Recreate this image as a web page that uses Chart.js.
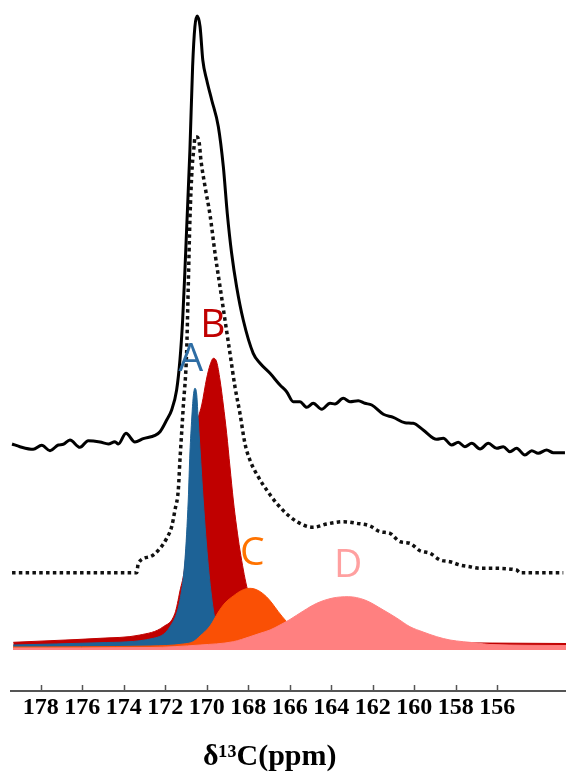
<!DOCTYPE html>
<html>
<head>
<meta charset="utf-8">
<script src="https://cdn.jsdelivr.net/npm/chart.js@4.4.1/dist/chart.umd.min.js"></script>
<style>
  html, body { margin: 0; padding: 0; background: #fff; }
</style>
</head>
<body>
<canvas id="spectra" width="566" height="775"></canvas>
<script>
// x axis ticks (ppm)
const tickValues = [178, 176, 174, 172, 170, 168, 166, 164, 162, 160, 158, 156]

// measured spectrum (solid)
const solidPpm = [179.38, 179.00, 178.36, 177.95, 177.55, 177.15, 176.91, 176.59, 176.11, 175.71, 175.14, 174.74, 174.42, 174.26, 173.89, 173.46, 173.06, 172.49, 172.25, 171.93, 171.69, 171.45, 171.29, 171.16, 171.05, 170.97, 170.81, 170.68, 170.57, 170.46, 170.32, 170.19, 170.00, 169.76, 169.44, 169.20, 169.01, 168.80, 168.56, 168.24, 167.76, 167.43, 166.95, 166.47, 166.15, 165.83, 165.51, 165.18, 164.87, 164.46, 164.06, 163.82, 163.42, 163.10, 162.70, 162.38, 162.05, 161.49, 161.01, 160.45, 160.05, 159.57, 158.92, 158.60, 158.20, 157.88, 157.56, 157.23, 156.83, 156.43, 156.03, 155.71, 155.39, 155.07, 154.67, 154.34, 154.03, 153.62, 153.30, 152.74]
const solidInt = [247, 244.3, 241.7, 245.7, 240.3, 246, 246.7, 251, 243.7, 250.3, 249, 247, 249.3, 247, 257.7, 249, 252.3, 255.7, 259.3, 271, 281, 301, 331, 371, 421, 461, 541, 624.3, 664.3, 675, 664.3, 631, 611, 591, 564.3, 524.3, 477.7, 437.7, 404.3, 371, 337.7, 327.7, 317.7, 306, 299.3, 289.3, 289.3, 283.7, 287.7, 281.7, 287.7, 287, 292.7, 289.3, 290.3, 287.7, 286, 276.7, 273.7, 268.3, 267.7, 261, 251.7, 252.7, 246, 248.7, 244.3, 247.7, 242, 247.7, 242.7, 244.3, 239.3, 242.7, 236, 240.3, 237.7, 241, 238.3, 238.3]

// fitted sum (dotted)
const dottedPpm = [179.38, 173.37, 173.30, 172.73, 172.25, 171.93, 171.69, 171.53, 171.37, 171.29, 171.21, 171.13, 170.97, 170.89, 170.81, 170.70, 170.61, 170.57, 170.47, 170.36, 170.28, 170.08, 169.84, 169.60, 169.36, 169.12, 168.88, 168.64, 168.40, 168.16, 167.92, 167.52, 167.11, 166.63, 165.99, 165.35, 164.87, 164.22, 163.42, 162.78, 162.13, 161.65, 161.17, 160.69, 160.21, 159.73, 159.24, 158.76, 158.28, 157.80, 157.32, 156.83, 156.35, 155.07, 154.91, 152.82]
const dottedInt = [118.3, 118.3, 127.7, 134.3, 142.7, 152.7, 164.3, 181, 201, 231, 257.7, 284.3, 337.7, 404.3, 471, 524.3, 544.3, 553.7, 554, 547.7, 531, 504.3, 476, 437.7, 404.3, 371, 337.7, 304.3, 277.7, 247.7, 231, 214.3, 201, 187.7, 174.3, 166, 163.7, 167, 169.3, 167.7, 165, 159.3, 157.7, 149.3, 147.7, 140.3, 137.7, 131, 129.3, 126, 124.3, 122.7, 122.7, 121, 118.3, 118.3]

// deconvoluted components
const aPpm = [179.32, 175.14, 172.57, 171.77, 171.29, 171.05, 170.89, 170.81, 170.72, 170.65, 170.57, 170.48, 170.41, 170.32, 170.17, 169.92, 169.68, 169.44, 169.04, 167.43, 160.69, 152.69]
const aInt = [46, 48.3, 52.7, 64.3, 91, 131, 191, 238, 273, 294, 302.7, 296, 271, 241, 191, 124.3, 81, 57.7, 49.3, 46, 45, 44.5]

const bPpm = [179.32, 177.55, 175.14, 173.22, 172.09, 171.53, 171.29, 171.05, 170.89, 170.72, 170.57, 170.41, 170.24, 170.00, 169.84, 169.68, 169.52, 169.36, 169.20, 169.04, 168.88, 168.72, 168.56, 168.40, 168.07, 167.67, 167.19, 166.47, 164.54, 159.73, 152.69]
const bInt = [48.7, 50.3, 52.7, 56, 64.3, 77.7, 100, 126, 170, 222, 256, 273, 286, 313, 326, 332.7, 329, 311, 286, 257.7, 224, 191, 164, 141, 104.3, 79, 61, 53, 50, 48.5, 47.5]

const cPpm = [179.33, 172.73, 171.13, 170.65, 170.32, 169.84, 169.44, 169.12, 168.72, 168.32, 167.92, 167.52, 167.11, 166.86, 166.55, 166.15, 165.75, 165.27, 164.54, 163.10, 152.69]
const cInt = [44, 45, 47, 49.3, 55, 65, 79, 88, 95, 100.5, 102.7, 100.5, 94, 88, 79.3, 69.3, 61, 54, 49, 46, 44]

const dPpm = [179.33, 172.73, 170.32, 168.72, 167.92, 167.43, 166.95, 166.47, 165.99, 165.35, 164.70, 163.92, 163.18, 162.38, 161.49, 160.85, 160.21, 159.57, 158.92, 158.28, 157.64, 156.99, 156.35, 152.69]
const dInt = [43, 43.5, 46, 49.3, 54.3, 57.7, 61, 66, 71.5, 80, 87.7, 93, 94.3, 91, 81, 73, 64.3, 59, 54.3, 51, 49.3, 48, 46.5, 45.5]

const baseline = 41

// peak labels
const peakNames = ['A', 'B', 'C', 'D']
const peakPpm = [170.76, 169.70, 167.80, 163.19]
const peakInt = [331, 365, 137, 125.5]
const peakColors = ['#2e6da4', '#c00000', '#ff7300', '#ffa0a0']

function points (xs, ys) {
  return xs.map((x, i) => ({ x: x, y: ys[i] }))
}

function component (data, color, order) {
  return {
    data: data,
    borderColor: color,
    borderWidth: 1,
    backgroundColor: color,
    fill: { value: baseline },
    pointRadius: 0,
    cubicInterpolationMode: 'monotone',
    order: order
  }
}

// tick marks point up into the plot, so draw them here
const upTicks = {
  id: 'upTicks',
  afterDraw (chart) {
    const scale = chart.scales.x
    const ctx = chart.ctx
    ctx.save()
    ctx.strokeStyle = '#555'
    ctx.lineWidth = 1.5
    for (let t of scale.ticks) {
      const px = Math.round(scale.getPixelForValue(t.value)) + 0.5
      ctx.beginPath()
      ctx.moveTo(px, scale.top)
      ctx.lineTo(px, scale.top - 6)
      ctx.stroke()
    }
    ctx.restore()
  }
}

const peakLabels = {
  id: 'peakLabels',
  afterDatasetsDraw (chart) {
    const { x, y } = chart.scales
    const ctx = chart.ctx
    ctx.save()
    ctx.font = '39px "Open Sans"'
    ctx.textAlign = 'center'
    ctx.textBaseline = 'middle'
    peakNames.forEach((name, i) => {
      ctx.fillStyle = peakColors[i]
      ctx.fillText(name, x.getPixelForValue(peakPpm[i]), y.getPixelForValue(peakInt[i]))
    })
    ctx.restore()
  }
}

new Chart(document.getElementById('spectra'), {
  type: 'line',
  data: {
    datasets: [
      {
        data: points(solidPpm, solidInt),
        borderColor: '#000',
        borderWidth: 3,
        pointRadius: 0,
        fill: false,
        cubicInterpolationMode: 'monotone',
        order: 0
      },
      {
        data: points(dottedPpm, dottedInt),
        borderColor: '#111',
        borderWidth: 3.5,
        borderDash: [3.5, 3.3],
        pointRadius: 0,
        fill: false,
        cubicInterpolationMode: 'monotone',
        order: 1
      },
      component(points(dPpm, dInt), '#ff8080', 2),
      component(points(cPpm, cInt), '#fa5005', 3),
      component(points(aPpm, aInt), '#1d6296', 4),
      component(points(bPpm, bInt), '#c00000', 5)
    ]
  },
  options: {
    responsive: false,
    animation: false,
    layout: { padding: { left: 11, right: 0, top: 0, bottom: 0 } },
    plugins: {
      legend: { display: false },
      tooltip: { enabled: false }
    },
    scales: {
      x: {
        type: 'linear',
        reverse: true,
        min: 152.69,
        max: 179.43,
        afterBuildTicks: scale => {
          scale.ticks = tickValues.map(v => ({ value: v }))
        },
        afterFit: scale => {
          scale.height = 84
        },
        grid: { display: false, drawTicks: false, tickLength: 0 },
        border: { display: true, color: '#555', width: 2 },
        ticks: {
          autoSkip: false,
          maxRotation: 0,
          padding: 2,
          color: '#000',
          font: { family: 'Liberation Serif', size: 24, weight: 'bold' },
          callback: v => v
        },
        title: {
          display: true,
          text: 'δ¹³C(ppm)     ',
          color: '#000',
          font: { family: 'Liberation Serif', size: 30, weight: 'bold' },
          padding: { top: 0, bottom: 0 }
        }
      },
      y: {
        display: false,
        min: 0,
        max: 691
      }
    }
  },
  plugins: [upTicks, peakLabels]
})
</script>
</body>
</html>
